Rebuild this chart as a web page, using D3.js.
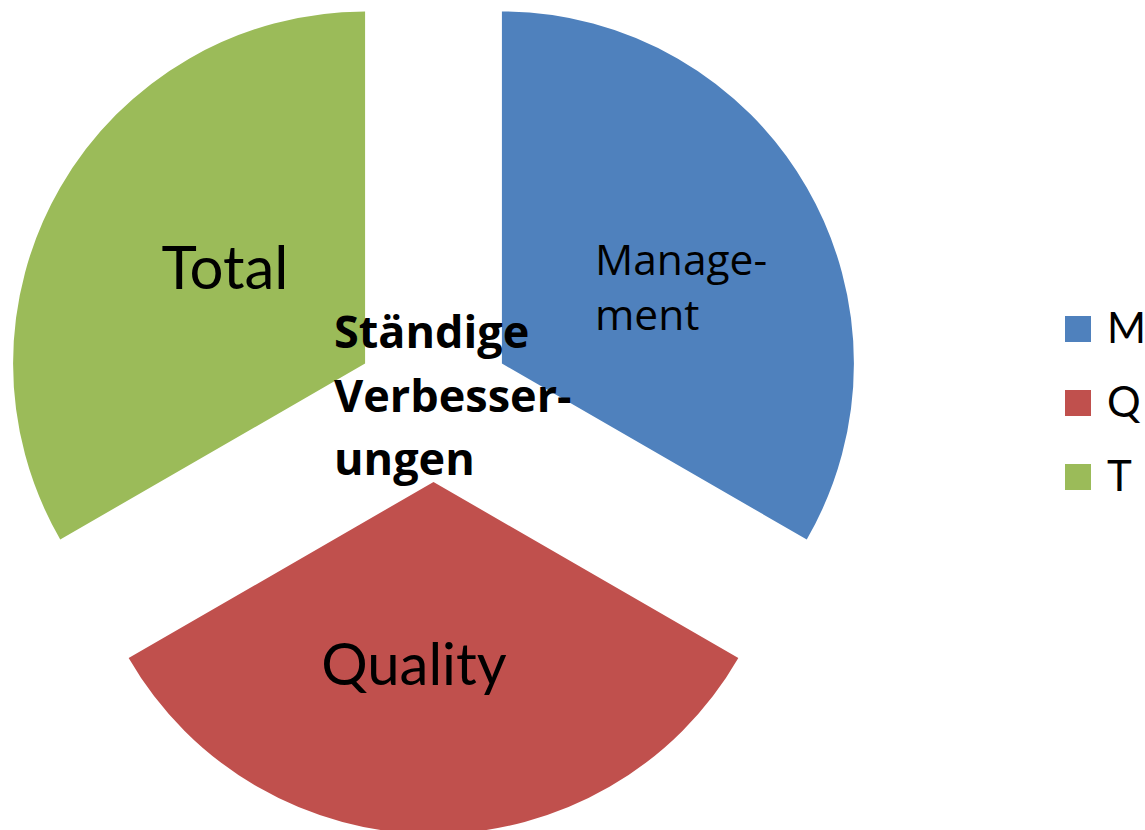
<!DOCTYPE html>
<html><head><meta charset="utf-8">
<script src="https://cdn.jsdelivr.net/npm/d3@7"></script>
<style>html,body{margin:0;padding:0;background:#fff;}svg{display:block;}</style>
</head><body>
<svg id="chart" width="1145" height="830"></svg>
<script>
// ---- data ----
const categories = ["Management", "Quality", "Total"];
const legendLabels = ["M", "Q", "T"];
const values = [1, 1, 1];
const sliceLabels = [["Manage-", "ment"], ["Quality"], ["Total"]];
const centerTitle = ["Ständige", "Verbesser-", "ungen"];
const colors = ["#4F81BD", "#C0504D", "#9BBB59"];

// ---- layout ----
const W = 1145, H = 830;
const cx = 433.5, cy = 403, R = 352, explode = 79;
const LATO = "Lato, 'Open Sans', sans-serif";
const OPEN = "'Open Sans', Lato, sans-serif";

const svg = d3.select("#chart");
const pie = d3.pie().sort(null).value(d => d).startAngle(0).endAngle(2 * Math.PI);
const arcs = pie(values);
const arc = d3.arc().innerRadius(0).outerRadius(R);

const g = svg.append("g").attr("transform", `translate(${cx},${cy})`);
const slices = g.selectAll("g.slice").data(arcs).join("g")
  .attr("class", "slice")
  .attr("transform", d => {
    const a = (d.startAngle + d.endAngle) / 2;
    return `translate(${explode * Math.sin(a)},${-explode * Math.cos(a)})`;
  });
slices.append("path").attr("d", arc).attr("fill", (d, i) => colors[i]);

// slice labels (placed relative to pie center)
const labelSpec = [
  {x: 595 - cx, y: 275 - cy, anchor: "start", size: 42.5, lh: 55, font: OPEN},
  {x: 414 - cx, y: 685 - cy, anchor: "middle", size: 58, lh: 0, font: LATO},
  {x: 225 - cx, y: 289 - cy, anchor: "middle", size: 60, lh: 0, font: LATO}
];
sliceLabels.forEach((lines, i) => {
  const s = labelSpec[i];
  const t = g.append("text").attr("font-family", s.font).attr("font-size", s.size)
    .attr("fill", "#000").attr("text-anchor", s.anchor);
  lines.forEach((ln, j) => t.append("tspan").attr("x", s.x).attr("y", s.y + j * s.lh).text(ln));
});

// center title
const ct = g.append("text").attr("font-family", OPEN).attr("font-size", 45)
  .attr("font-weight", "bold").attr("fill", "#000");
centerTitle.forEach((ln, j) => ct.append("tspan").attr("x", 334 - cx).attr("y", 348 - cy + j * 63.5).text(ln));

// legend
const leg = svg.append("g").attr("transform", "translate(1065,316)");
const items = leg.selectAll("g").data(legendLabels).join("g")
  .attr("transform", (d, i) => `translate(0,${i * 74})`);
items.append("rect").attr("width", 26).attr("height", 26).attr("fill", (d, i) => colors[i]);
items.append("text").attr("x", 42).attr("y", 27).attr("font-family", LATO)
  .attr("font-size", 42).attr("fill", "#000").text(d => d);
</script>
</body></html>
